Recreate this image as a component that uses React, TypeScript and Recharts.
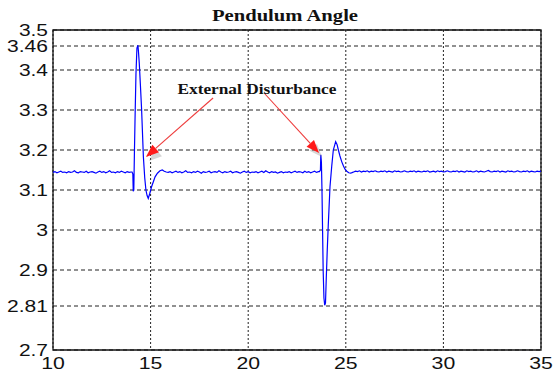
import { CartesianGrid, Line, LineChart, ReferenceArea, ReferenceDot, ReferenceLine, XAxis, YAxis } from 'recharts'

type Sample = [number, number]

const xTicks = [10, 15, 20, 25, 30, 35]
const yTicks = [2.7, 2.81, 2.9, 3, 3.1, 3.2, 3.3, 3.4, 3.46, 3.5]

// pendulum angle (rad) vs time (s)
const quietBefore: Sample[] = [
  [10.0, 3.144], [10.1, 3.146], [10.2, 3.143], [10.3, 3.145], [10.4, 3.147], [10.5, 3.144], [10.6, 3.145],
  [10.7, 3.143], [10.8, 3.146], [10.9, 3.144], [11.0, 3.145], [11.1, 3.148], [11.2, 3.144], [11.3, 3.143],
  [11.4, 3.146], [11.5, 3.145], [11.6, 3.144], [11.7, 3.147], [11.8, 3.143], [11.9, 3.145], [12.0, 3.146],
  [12.1, 3.144], [12.2, 3.142], [12.3, 3.145], [12.4, 3.147], [12.5, 3.144], [12.6, 3.146], [12.7, 3.143],
  [12.8, 3.145], [12.9, 3.148], [13.0, 3.144], [13.1, 3.145], [13.2, 3.143], [13.3, 3.146], [13.4, 3.144],
  [13.5, 3.147], [13.6, 3.145], [13.7, 3.143], [13.8, 3.146], [13.9, 3.144], [14.0, 3.145],
]

const firstKick: Sample[] = [
  [14.05, 3.145], [14.09, 3.14], [14.11, 3.097], [14.14, 3.1], [14.17, 3.19], [14.2, 3.27], [14.25, 3.39],
  [14.3, 3.455], [14.35, 3.462], [14.38, 3.445], [14.42, 3.417], [14.48, 3.36], [14.54, 3.3], [14.63, 3.183],
  [14.7, 3.13], [14.76, 3.1], [14.82, 3.086], [14.88, 3.079], [14.95, 3.09], [15.05, 3.108], [15.15, 3.122],
  [15.23, 3.133], [15.35, 3.142], [15.48, 3.148], [15.6, 3.15], [15.7, 3.147], [15.8, 3.145],
]

const quietBetween: Sample[] = [
  [15.9, 3.144], [16.0, 3.146], [16.1, 3.143], [16.2, 3.145], [16.3, 3.147], [16.4, 3.144], [16.5, 3.146],
  [16.6, 3.143], [16.7, 3.145], [16.8, 3.148], [16.9, 3.144], [17.0, 3.145], [17.1, 3.143], [17.2, 3.146],
  [17.3, 3.144], [17.4, 3.147], [17.5, 3.145], [17.6, 3.142], [17.7, 3.146], [17.8, 3.144], [17.9, 3.145],
  [18.0, 3.147], [18.1, 3.143], [18.2, 3.145], [18.3, 3.146], [18.4, 3.144], [18.5, 3.148], [18.6, 3.145],
  [18.7, 3.143], [18.8, 3.146], [18.9, 3.144], [19.0, 3.145], [19.1, 3.147], [19.2, 3.143], [19.3, 3.145],
  [19.4, 3.146], [19.5, 3.144], [19.6, 3.142], [19.7, 3.145], [19.8, 3.147], [19.9, 3.144], [20.0, 3.146],
  [20.1, 3.143], [20.2, 3.145], [20.3, 3.144], [20.4, 3.146], [20.5, 3.143], [20.6, 3.145], [20.7, 3.147],
  [20.8, 3.144], [20.9, 3.148], [21.0, 3.145], [21.1, 3.143], [21.2, 3.146], [21.3, 3.144], [21.4, 3.145],
  [21.5, 3.142], [21.6, 3.144], [21.7, 3.146], [21.8, 3.143], [21.9, 3.145], [22.0, 3.144], [22.1, 3.146],
  [22.2, 3.143], [22.3, 3.145], [22.4, 3.147], [22.5, 3.144], [22.6, 3.146], [22.7, 3.145], [22.8, 3.143],
  [22.9, 3.147], [23.0, 3.144], [23.1, 3.146], [23.2, 3.143], [23.3, 3.145], [23.4, 3.147], [23.5, 3.144],
  [23.6, 3.146],
]

const secondKick: Sample[] = [
  [23.65, 3.146], [23.7, 3.15], [23.72, 3.188], [23.75, 3.17], [23.78, 3.1], [23.81, 3.0], [23.84, 2.9],
  [23.88, 2.83], [23.92, 2.812], [23.96, 2.818], [24.0, 2.88], [24.05, 2.95], [24.1, 3.01], [24.19, 3.108],
  [24.28, 3.16], [24.36, 3.2], [24.48, 3.221], [24.55, 3.214], [24.62, 3.2], [24.7, 3.185], [24.79, 3.171],
  [24.88, 3.16], [24.96, 3.152], [25.05, 3.147], [25.15, 3.143], [25.25, 3.142], [25.35, 3.144],
]

const quietAfter: Sample[] = [
  [25.4, 3.145], [25.5, 3.147], [25.6, 3.146], [25.7, 3.148], [25.8, 3.145], [25.9, 3.147], [26.0, 3.146],
  [26.1, 3.148], [26.2, 3.145], [26.3, 3.147], [26.4, 3.146], [26.5, 3.148], [26.6, 3.146], [26.7, 3.145],
  [26.8, 3.147], [26.9, 3.146], [27.0, 3.148], [27.1, 3.145], [27.2, 3.147], [27.3, 3.146], [27.4, 3.145],
  [27.5, 3.148], [27.6, 3.146], [27.7, 3.147], [27.8, 3.145], [27.9, 3.146], [28.0, 3.148], [28.1, 3.146],
  [28.2, 3.145], [28.3, 3.147], [28.4, 3.146], [28.5, 3.148], [28.6, 3.145], [28.7, 3.147], [28.8, 3.146],
  [28.9, 3.145], [29.0, 3.147], [29.1, 3.146], [29.2, 3.148], [29.3, 3.145], [29.4, 3.146], [29.5, 3.147],
  [29.6, 3.145], [29.7, 3.148], [29.8, 3.146], [29.9, 3.147], [30.0, 3.145], [30.1, 3.146], [30.2, 3.148],
  [30.3, 3.146], [30.4, 3.145], [30.5, 3.147], [30.6, 3.146], [30.7, 3.148], [30.8, 3.145], [30.9, 3.147],
  [31.0, 3.146], [31.1, 3.145], [31.2, 3.148], [31.3, 3.146], [31.4, 3.147], [31.5, 3.145], [31.6, 3.146],
  [31.7, 3.148], [31.8, 3.145], [31.9, 3.147], [32.0, 3.146], [32.1, 3.145], [32.2, 3.147], [32.3, 3.149],
  [32.4, 3.146], [32.5, 3.145], [32.6, 3.147], [32.7, 3.146], [32.8, 3.148], [32.9, 3.145], [33.0, 3.147],
  [33.1, 3.146], [33.2, 3.145], [33.3, 3.148], [33.4, 3.146], [33.5, 3.147], [33.6, 3.145], [33.7, 3.146],
  [33.8, 3.148], [33.9, 3.146], [34.0, 3.145], [34.1, 3.147], [34.2, 3.146], [34.3, 3.148], [34.4, 3.145],
  [34.5, 3.147], [34.6, 3.146], [34.7, 3.145], [34.8, 3.147], [34.9, 3.146], [35.0, 3.147],
]

// annotation arrows, in data coordinates (tail -> head)
const arrows = [
  { from: { x: 18.2, y: 3.33 }, to: { x: 14.76, y: 3.1825 } },
  { from: { x: 20.86, y: 3.34 }, to: { x: 23.63, y: 3.1925 } },
]

const data = [...quietBefore, ...firstKick, ...quietBetween, ...secondKick, ...quietAfter].map(([t, angle]) => ({
  t,
  angle,
}))

const labelFont = '"Liberation Sans", Arial, sans-serif'
const serifFont = '"Liberation Serif", "Times New Roman", serif'

function labelWidth(s: string) {
  let w = 0
  for (const c of s) w += c === '.' ? 5.5 : 11.8
  return w
}

function YTick(props: any) {
  const s = String(props.payload.value)
  return (
    <text x={props.x - 5} y={props.y} dy="0.36em" textAnchor="end" fontFamily={labelFont} fontSize={16}
      fill="#111" textLength={labelWidth(s)} lengthAdjust="spacingAndGlyphs">
      {s}
    </text>
  )
}

function XTick(props: any) {
  const s = String(props.payload.value)
  return (
    <text x={props.x} y={props.y + 19} textAnchor="middle" fontFamily={labelFont} fontSize={16} fill="#111"
      textLength={labelWidth(s)} lengthAdjust="spacingAndGlyphs">
      {s}
    </text>
  )
}

function Arrow(props: any) {
  const { x1, y1, x2, y2 } = props
  const dx = x2 - x1
  const dy = y2 - y1
  const len = Math.hypot(dx, dy)
  const ux = dx / len
  const uy = dy / len
  const head = 13
  const half = 5
  const bx = x2 - ux * head
  const by = y2 - uy * head
  const pts = `${x2},${y2} ${bx - uy * half},${by + ux * half} ${bx + uy * half},${by - ux * half}`
  const shadow = `${x2 + 3},${y2 + 4} ${bx - uy * half + 3},${by + ux * half + 4} ${bx + uy * half + 3},${by - ux * half + 4}`
  return (
    <g>
      <polygon points={shadow} fill="#777" opacity={0.3} />
      <line x1={x1} y1={y1} x2={bx} y2={by} stroke="#ee3b3b" strokeWidth={1.1} />
      <polygon points={pts} fill="#ff1a1a" />
    </g>
  )
}

function AnnotationText(props: any) {
  return (
    <text x={props.cx} y={props.cy} textAnchor="middle" fontFamily={serifFont} fontWeight="bold" fontSize={15}
      fill="#111" textLength={159} lengthAdjust="spacingAndGlyphs">
      External Disturbance
    </text>
  )
}

export default function App() {
  return (
    <div style={{ position: 'fixed', left: 0, top: 0, width: 553, height: 373, background: '#fff' }}>
      <LineChart width={553} height={373} data={data} margin={{ top: 30, right: 12, bottom: 0, left: 0 }}>
        <text x={285} y={21} textAnchor="middle" fontFamily={serifFont} fontWeight="bold" fontSize={16} fill="#111"
          textLength={146} lengthAdjust="spacingAndGlyphs">
          Pendulum Angle
        </text>
        <CartesianGrid vertical={false} stroke="#222" strokeDasharray="4 3" />
        <CartesianGrid horizontal={false} stroke="#222" strokeDasharray="2 2" />
        <XAxis dataKey="t" type="number" domain={[10, 35]} ticks={xTicks} axisLine={false} tickLine={false}
          tickSize={0} tickMargin={0} height={23} tick={<XTick />} interval={0} />
        <YAxis type="number" domain={[2.7, 3.5]} ticks={yTicks} axisLine={false} tickLine={false} tickSize={0}
          tickMargin={0} width={53} tick={<YTick />} interval={0} />
        <ReferenceArea x1={10} x2={35} y1={2.7} y2={3.5} fill="none" stroke="#111" strokeWidth={1.3} />
        <Line type="linear" dataKey="angle" stroke="#0000ff" strokeWidth={1.2} dot={false}
          isAnimationActive={false} />
        {arrows.map((a, i) => (
          <ReferenceLine key={i} segment={[a.from, a.to]} shape={<Arrow />} />
        ))}
        <ReferenceDot x={20.45} y={3.34} r={0} shape={<AnnotationText />} />
      </LineChart>
    </div>
  )
}
